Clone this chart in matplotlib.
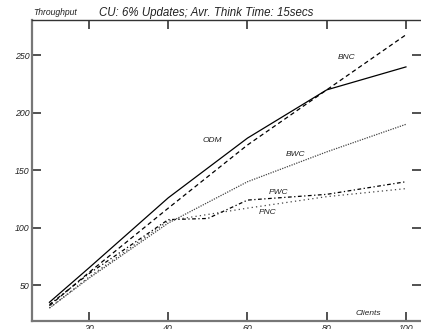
import matplotlib
matplotlib.use('Agg')
import matplotlib.pyplot as plt

# Throughput vs. number of clients, CU workload
clients = [10, 20, 40, 60, 80, 100]
odm = [35, 65, 126, 178, 220, 240]
bnc = [32, 61, 117, 172, 220, 268]
bwc = [30, 56, 104, 140, 166, 190]
pnc = [30, 57, 106, 117, 127, 134]

pwc_clients = [10, 20, 40, 50, 60, 80, 100]
pwc = [33, 60, 107, 108, 124, 129, 140]

curve_labels = ['ODM', 'BNC', 'BWC', 'PWC', 'PNC']
label_pos = [(51, 176), (85, 248), (72.2, 164), (67.7, 131), (65, 113.5)]

x_ticks = [20, 40, 60, 80, 100]
y_ticks = [50, 100, 150, 200, 250]

plt.rcParams['font.family'] = ['Liberation Sans', 'DejaVu Sans']

fig = plt.figure(figsize=(4.21, 3.29), dpi=100)
ax = fig.add_axes([0.076, 0.024, 0.924, 0.915])

ax.plot(clients, odm, color='black', lw=0.9, ls='-')
ax.plot(clients, bnc, color='black', lw=0.9, ls=(0, (3.5, 2.5)))
ax.plot(clients, bwc, color='#444444', lw=0.9, ls=(0, (1, 1)))
ax.plot(pwc_clients, pwc, color='black', lw=0.9, ls=(0, (3, 2, 1, 2)))
ax.plot(clients, pnc, color='#444444', lw=0.9, ls=(0, (1, 2.5)))

for name, (lx, ly) in zip(curve_labels, label_pos):
    ax.text(lx, ly, name, fontsize=6, style='italic', color='#222222',
            ha='center', va='center')

ax.set_xlim(5.6, 103.8)
ax.set_ylim(18.6, 280.8)
ax.set_xticks(x_ticks)
ax.set_yticks(y_ticks)
ax.tick_params(direction='in', length=6.5, width=1.2, color='#333333',
               top=True, right=True, labelsize=6.3, pad=2,
               labelcolor='#222222')
for lab in ax.get_xticklabels() + ax.get_yticklabels():
    lab.set_style('italic')

for side in ['left', 'bottom']:
    ax.spines[side].set_color('#777777')
    ax.spines[side].set_linewidth(1.6)
ax.spines['top'].set_color('#333333')
ax.spines['top'].set_linewidth(1.0)
ax.spines['right'].set_visible(False)

ax.text(90.5, 25, 'Clients', fontsize=6, style='italic', color='#222222',
        ha='center', va='center')
fig.text(0.078, 0.962, 'Throughput', fontsize=6.2, style='italic',
         color='#222222', ha='left', va='center')
fig.text(0.235, 0.962, 'CU: 6% Updates; Avr. Think Time: 15secs', fontsize=8.3,
         style='italic', color='#222222', ha='left', va='center')

fig.savefig('out.png', dpi=100)
